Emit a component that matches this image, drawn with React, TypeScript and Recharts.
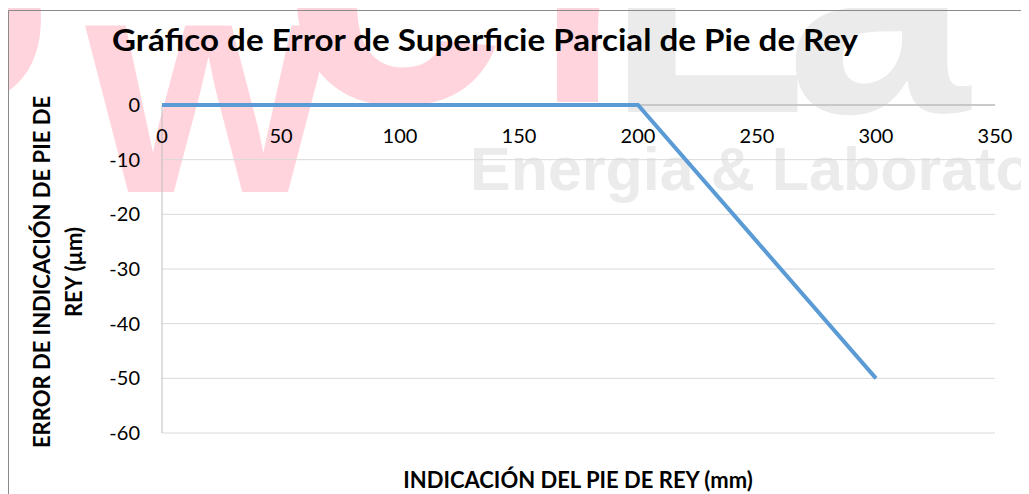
import React from 'react';
import { LineChart, Line, XAxis, YAxis, CartesianGrid } from 'recharts';

// Data
const indicacionMm = [0, 50, 100, 150, 200, 250, 300];
const errorUm = [0, 0, 0, 0, 0, -25, -50];
const xTicks = [0, 50, 100, 150, 200, 250, 300, 350];
const yTicks = [-60, -50, -40, -30, -20, -10, 0];

const titleText = 'Gráfico de Error de Superficie Parcial de Pie de Rey';
const yLabelLine1 = 'ERROR DE INDICACIÓN DE PIE DE';
const yLabelLine2 = 'REY (µm)';
const xLabelText = 'INDICACIÓN DEL PIE DE REY (mm)';

const data = indicacionMm.map((x, i) => ({ x, err: errorUm[i] }));

const W = 1021;
const H = 486;
const FONT = 'Lato, "Open Sans", sans-serif';
const WM_FONT = '"Liberation Sans", Arial, sans-serif';

const XTick = (props: any) => {
  const { x, y, payload } = props;
  return (
    <text x={x} y={y + 38} textAnchor="middle" fontSize={20} fontFamily={FONT} fill="#000">
      {payload.value}
    </text>
  );
};

export default function App() {
  return (
    <div style={{ position: 'relative', width: W, height: H, overflow: 'hidden', background: '#fff' }}>
      {/* watermark background */}
      <svg width={W} height={H} style={{ position: 'absolute', left: 0, top: 0 }}>
        <g fill="#FFD4DC" fontFamily={WM_FONT} fontWeight={700}>
          <text x={-150} y={95} fontSize={320}>o</text>
          <text x={78} y={184} fontSize={315}>w</text>
          <text x={272} y={94} fontSize={420}>e</text>
          <text x={528} y={94} fontSize={300}>r</text>
        </g>
        <g fill="#EBEBEB" fontFamily={WM_FONT} fontWeight={700}>
          <text x={[598, 778, 996].join(' ')} y={104} fontSize={330}>Lab</text>
          <text x={462} y={182} fontSize={61}>Energia &amp; Laboratorio</text>
        </g>
      </svg>
      <div style={{ position: 'absolute', left: 0, top: 0 }}>
        <LineChart
          width={W}
          height={H}
          data={data}
          margin={{ top: 77, right: 34, bottom: 61, left: 94 }}
        >
          <CartesianGrid vertical={false} stroke="#D9D9D9" strokeWidth={1} />
          <XAxis
            dataKey="x"
            type="number"
            orientation="top"
            height={20}
            domain={[0, 350]}
            ticks={xTicks}
            interval={0}
            axisLine={{ stroke: '#BFBFBF', strokeWidth: 1.5 }}
            tickLine={false}
            tickSize={0}
            tickMargin={0}
            tick={<XTick />}
          />
          <YAxis
            type="number"
            width={60}
            domain={[-60, 0]}
            ticks={yTicks}
            interval={0}
            axisLine={{ stroke: '#BFBFBF', strokeWidth: 1 }}
            tickLine={false}
            tickSize={0}
            tickMargin={22}
            tick={{ fill: '#000', fontSize: 20, fontFamily: FONT }}
          />
          <Line
            type="linear"
            dataKey="err"
            stroke="#5B9BD5"
            strokeWidth={4}
            dot={false}
            isAnimationActive={false}
            {...({ zIndex: 700 } as any)}
          />
        </LineChart>
      </div>
      {/* titles and frame */}
      <svg width={W} height={H} style={{ position: 'absolute', left: 0, top: 0, pointerEvents: 'none' }}>
        <line x1={0.5} y1={2.5} x2={W} y2={2.5} stroke="#8A8A8A" strokeWidth={1} />
        <line x1={0.5} y1={2.5} x2={0.5} y2={H} stroke="#8A8A8A" strokeWidth={1} />
        <text x={104} y={43} fontSize={31} fontWeight={700} fontFamily={FONT} fill="#000" textLength={746} lengthAdjust="spacingAndGlyphs">
          {titleText}
        </text>
        <g fontSize={22} fontWeight={700} fontFamily={FONT} fill="#000" textAnchor="middle">
          <text transform="translate(42,264) rotate(-90)">{yLabelLine1}</text>
          <text transform="translate(74,264) rotate(-90)">{yLabelLine2}</text>
          <text x={570} y={480}>{xLabelText}</text>
        </g>
      </svg>
    </div>
  );
}
